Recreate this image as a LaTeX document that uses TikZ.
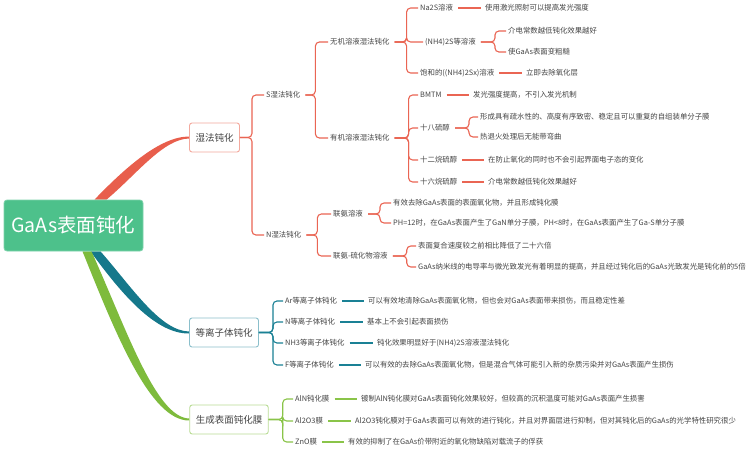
\documentclass[tikz,border=0pt]{standalone}
\usepackage{fontspec}
\setmainfont{Noto Sans CJK SC}
\usetikzlibrary{backgrounds}
\definecolor{rootc}{HTML}{4DC18B}
\definecolor{rootb}{HTML}{7FD3AC}
\definecolor{txt}{HTML}{444444}
\definecolor{redc}{HTML}{E85E4C}
\definecolor{redl}{HTML}{EA6553}
\definecolor{wetb}{HTML}{F3A99E}
\definecolor{tealc}{HTML}{15788B}
\definecolor{teall}{HTML}{1A8195}
\definecolor{plab}{HTML}{8BBFCB}
\definecolor{greenc}{HTML}{7EBB3C}
\definecolor{greenl}{HTML}{8AC449}
\definecolor{filb}{HTML}{B9DC94}
\begin{document}
\begin{tikzpicture}[x=1pt,y=-1pt,
  t/.style={font=\fontsize{7.4}{9}\selectfont, text=txt, inner sep=2pt, anchor=west},
  rootbox/.style={fill=rootc, draw=rootb, line width=0.8pt, rounded corners=3pt, minimum width=139pt, minimum height=51pt, inner sep=0pt, text=white, font=\fontsize{19.5}{22}\selectfont},
  lv1/.style={draw=#1, line width=0.9pt, fill=white, rounded corners=2.5pt, font=\fontsize{9.5}{11}\selectfont, text=txt, minimum height=29pt, inner xsep=6pt, inner ysep=0pt},
  br/.style={draw=#1, line width=1.1pt, rounded corners=4pt},
  lf/.style={draw=#1, line width=1.1pt, shorten <=3pt, shorten >=2pt}]
\begin{scope}[on background layer]
\fill[white] (0,0) rectangle (749,450);
\end{scope}
\useasboundingbox (0,0) rectangle (749,450);
% level 0 / 1
\node[rootbox] (root) at (73.5,225.5) {GaAs表面钝化};
\node[lv1=wetb] (wet) at (214.5,137.5) {湿法钝化};
\node[lv1=plab] (pla) at (224,332.5) {等离子体钝化};
\node[lv1=filb] (fil) at (229,419.5) {生成表面钝化膜};
% wet subtree
\node[t] (s) at (264,95) {S湿法钝化};
\node[t] (n) at (264,235) {N湿法钝化};
\node[t] (ino) at (328,42) {无机溶液湿法钝化};
\node[t] (org) at (328,138) {有机溶液湿法钝化};
\node[t] (na2s) at (418,8) {Na2S溶液};
\node[t] (nh4) at (423,42) {(NH4)2S等溶液};
\node[t] (sat) at (418,73) {饱和的((NH4)2Sx)溶液};
\node[t] (l1) at (483,8) {使用激光照射可以提高发光强度};
\node[t] (l2) at (506,31) {介电常数越低钝化效果越好};
\node[t] (l3) at (506,52) {使GaAs表面变粗糙};
\node[t] (l4) at (524,73) {立即去除氧化层};
\node[t] (bmtm) at (418,95) {BMTM};
\node[t] (c18) at (418,128) {十八硫醇};
\node[t] (c12) at (418,160) {十二烷硫醇};
\node[t] (c16) at (418,182) {十六烷硫醇};
\node[t] (l5) at (471,95) {发光强度提高，不引入发光机制};
\node[t] (l6) at (478,117) {形成具有疏水性的、高度有序致密、稳定且可以重复的自组装单分子膜};
\node[t] (l7) at (478,137) {热退火处理后无能带弯曲};
\node[t] (l8) at (486,160) {在防止氧化的同时也不会引起界面电子态的变化};
\node[t] (l9) at (486,182) {介电常数越低钝化效果越好};
\node[t] (hy) at (331,214) {联氨溶液};
\node[t] (hys) at (331,256) {联氨-硫化物溶液};
\node[t] (l10) at (391,203) {有效去除GaAs表面的表面氧化物，并且形成钝化膜};
\node[t] (l11) at (391,223) {PH=12时，在GaAs表面产生了GaN单分子膜，PH<8时，在GaAs表面产生了Ga-S单分子膜};
\node[t] (l12) at (416,246) {表面复合速度较之前相比降低了二十六倍};
\node[t] (l13) at (416,267) {GaAs纳米线的电导率与微光致发光有着明显的提高，并且经过钝化后的GaAs光致发光是钝化前的5倍};
% plasma subtree
\node[t] (ar) at (283,301) {Ar等离子体钝化};
\node[t] (np) at (283,322) {N等离子体钝化};
\node[t] (nh3) at (283,343) {NH3等离子体钝化};
\node[t] (fp) at (283,365) {F等离子体钝化};
\node[t] (p1) at (366,301) {可以有效地清除GaAs表面氧化物，但也会对GaAs表面带来损伤，而且稳定性差};
\node[t] (p2) at (365,322) {基本上不会引起表面损伤};
\node[t] (p3) at (375,343) {钝化效果明显好于(NH4)2S溶液湿法钝化};
\node[t] (p4) at (363,365) {可以有效的去除GaAs表面氧化物，但是混合气体可能引入新的杂质污染并对GaAs表面产生损伤};
% film subtree
\node[t] (aln) at (293,399) {AlN钝化膜};
\node[t] (alo) at (293,421) {Al2O3膜};
\node[t] (zno) at (293,442) {ZnO膜};
\node[t] (f1) at (359,399) {镀制AlN钝化膜对GaAs表面钝化效果较好，但较高的沉积温度可能对GaAs表面产生损害};
\node[t] (f2) at (353,421) {Al2O3钝化膜对于GaAs表面可以有效的进行钝化，并且对界面层进行抑制，但对其钝化后的GaAs的光学特性研究很少};
\node[t] (f3) at (346,442) {有效的抑制了在GaAs价带附近的氧化物缺陷对载流子的俘获};
% thick branches
\begin{scope}[on background layer]
\fill[redc] ([xshift=21pt]root.north) .. controls (125,168) and (160,136.5) .. ([yshift=1pt]wet.west)
  -- ([yshift=-1pt]wet.west) .. controls (163,139) and (136,175) .. ([xshift=33pt]root.north) -- cycle;
\fill[tealc] ([xshift=17pt]root.south) .. controls (120,292) and (155,334) .. ([yshift=-1pt]pla.west)
  -- ([yshift=1pt]pla.west) .. controls (160,331) and (131,286) .. ([xshift=27pt]root.south) -- cycle;
\fill[greenc] ([xshift=9pt]root.south) .. controls (115,332) and (150,421) .. ([yshift=-1pt]fil.west)
  -- ([yshift=1pt]fil.west) .. controls (156,418) and (126,328) .. ([xshift=18pt]root.south) -- cycle;
\end{scope}
% wet connectors
\draw[br=redl] (wet.east) -- ++(12,0) |- (s.west);
\draw[br=redl] (wet.east) -- ++(12,0) |- (n.west);
\draw[br=redl] ([xshift=3pt]s.east) -- ++(10,0) |- (ino.west);
\draw[br=redl] ([xshift=3pt]s.east) -- ++(10,0) |- (org.west);
\draw[br=redl] ([xshift=3pt]ino.east) -- ++(12,0) |- (na2s.west);
\draw[br=redl] ([xshift=3pt]ino.east) -- ++(12,0) |- (nh4.west);
\draw[br=redl] ([xshift=3pt]ino.east) -- ++(12,0) |- (sat.west);
\draw[lf=redl] (na2s.east) -- (l1.west);
\draw[br=redl] ([xshift=3pt]nh4.east) -- ++(14,0) |- (l2.west);
\draw[br=redl] ([xshift=3pt]nh4.east) -- ++(14,0) |- (l3.west);
\draw[lf=redl] (sat.east) -- (l4.west);
\draw[br=redl] ([xshift=3pt]org.east) -- ++(14,0) |- (bmtm.west);
\draw[br=redl] ([xshift=3pt]org.east) -- ++(14,0) |- (c18.west);
\draw[br=redl] ([xshift=3pt]org.east) -- ++(14,0) |- (c12.west);
\draw[br=redl] ([xshift=3pt]org.east) -- ++(14,0) |- (c16.west);
\draw[lf=redl] (bmtm.east) -- (l5.west);
\draw[br=redl] ([xshift=3pt]c18.east) -- ++(14,0) |- (l6.west);
\draw[br=redl] ([xshift=3pt]c18.east) -- ++(14,0) |- (l7.west);
\draw[lf=redl] (c12.east) -- (l8.west);
\draw[lf=redl] (c16.east) -- (l9.west);
\draw[br=redl] ([xshift=3pt]n.east) -- ++(11,0) |- (hy.west);
\draw[br=redl] ([xshift=3pt]n.east) -- ++(11,0) |- (hys.west);
\draw[br=redl] ([xshift=3pt]hy.east) -- ++(12,0) |- (l10.west);
\draw[br=redl] ([xshift=3pt]hy.east) -- ++(12,0) |- (l11.west);
\draw[br=redl] ([xshift=3pt]hys.east) -- ++(14,0) |- (l12.west);
\draw[br=redl] ([xshift=3pt]hys.east) -- ++(14,0) |- (l13.west);
% plasma connectors
\foreach \c in {ar,np,nh3,fp}{\draw[br=teall] (pla.east) -- ++(14,0) |- (\c.west);}
\draw[lf=teall] (ar.east) -- (p1.west);
\draw[lf=teall] (np.east) -- (p2.west);
\draw[lf=teall] (nh3.east) -- (p3.west);
\draw[lf=teall] (fp.east) -- (p4.west);
% film connectors
\foreach \c in {aln,alo,zno}{\draw[br=greenl] (fil.east) -- ++(14,0) |- (\c.west);}
\draw[lf=greenl] (aln.east) -- (f1.west);
\draw[lf=greenl] (alo.east) -- (f2.west);
\draw[lf=greenl] (zno.east) -- (f3.west);
\end{tikzpicture}
\end{document}
